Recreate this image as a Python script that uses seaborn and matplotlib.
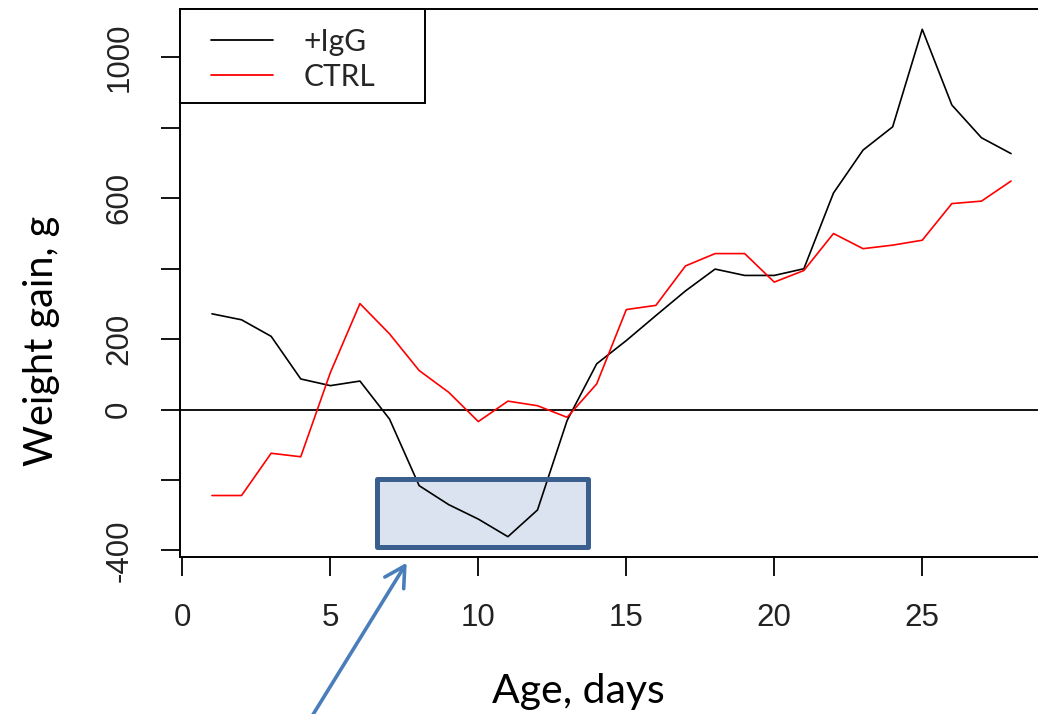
import matplotlib
matplotlib.use("Agg")
import matplotlib.pyplot as plt
from matplotlib import font_manager
from matplotlib.lines import Line2D
from matplotlib.patches import Rectangle
import pandas as pd
import seaborn as sns

# Daily weight gain (g) by age for the two groups
days = list(range(1, 29))
igg_gain = [272, 255, 208, 87, 68, 81, -27, -216, -270, -311, -361, -285, -31, 130,
            196, 267, 337, 399, 381, 381, 400, 615, 737, 803, 1080, 865, 772, 727]
ctrl_gain = [-244, -244, -124, -134, 105, 301, 215, 111, 49, -34, 24, 11, -22, 73,
             284, 296, 408, 443, 443, 362, 395, 500, 457, 467, 481, 585, 592, 649]

series_names = ["+IgG", "CTRL"]
series_colors = ["black", "red"]

x_ticks = [0, 5, 10, 15, 20, 25]
y_ticks = [-400, -200, 0, 200, 400, 600, 800, 1000]
y_tick_labels = ["-400", "", "0", "200", "", "600", "", "1000"]

# Highlighted window (days, grams)
highlight_days = (6.56, 13.70)
highlight_gain = (-390, -197)

df = pd.DataFrame({
    "Age": days + days,
    "Gain": igg_gain + ctrl_gain,
    "Group": [series_names[0]] * len(days) + [series_names[1]] * len(days),
})

sns.set_theme(style="white")
installed = {f.name for f in font_manager.fontManager.ttflist}
tick_family = "Liberation Sans Narrow" if "Liberation Sans Narrow" in installed else "Liberation Sans"
plt.rcParams["font.family"] = [tick_family, "DejaVu Sans"]

fig = plt.figure(figsize=(10.38, 7.14), dpi=100)
ax = fig.add_axes([0.17341, 0.21989, 0.83141, 0.76751])

# highlight box fill sits beneath the curves
hx0, hx1 = highlight_days
hy0, hy1 = highlight_gain
ax.add_patch(Rectangle((hx0, hy0), hx1 - hx0, hy1 - hy0, facecolor="#dae3ef",
                       edgecolor="none", zorder=1))

ax.axhline(0, color="black", lw=1.3, zorder=1.5)

sns.lineplot(data=df, x="Age", y="Gain", hue="Group",
             palette=dict(zip(series_names, series_colors)),
             linewidth=1.2, legend=False, ax=ax, zorder=2)

ax.add_patch(Rectangle((hx0, hy0), hx1 - hx0, hy1 - hy0, facecolor="none",
                       edgecolor="#3a5f8e", lw=3.6, joinstyle="round", zorder=3))


def r_limits(lo, hi):
    pad = 0.04 * (hi - lo)
    return lo - pad, hi + pad


ax.set_xlim(*r_limits(min(days), max(days)))
all_gain = igg_gain + ctrl_gain
ax.set_ylim(*r_limits(min(all_gain), max(all_gain)))

ax.set_xticks(x_ticks)
ax.set_xticklabels([str(t) for t in x_ticks])
ax.set_yticks(y_ticks)
ax.set_yticklabels(y_tick_labels, rotation=90, va="center")
ax.tick_params(direction="out", length=14, width=1.3, color="black",
               labelsize=22.5, labelcolor="#222222", pad=19,
               bottom=True, left=True)

for sp in ax.spines.values():
    sp.set_visible(True)
    sp.set_color("black")
    sp.set_linewidth(1.4)

ax.set_xlabel("Age, days", fontfamily="Lato", fontsize=29.5, color="black", va="baseline")
ax.xaxis.set_label_coords(0.4612, -0.2664)
ax.set_ylabel("Weight gain, g", fontfamily="Lato", fontsize=28.5, color="black",
              va="baseline", ha="center")
ax.yaxis.set_label_coords(-0.1472, 0.394)

# legend with a square R-style frame
handles = [Line2D([], [], color=c, lw=1.3) for c in series_colors]
ax.legend(handles, series_names, loc="upper left", bbox_to_anchor=(0.0356, 0.966),
          frameon=False, borderpad=0, borderaxespad=0, handlelength=2.1,
          handletextpad=1.0, labelspacing=0.24,
          prop={"family": "Lato", "size": 21.5})
ax.add_patch(Rectangle((0, 0.829), 0.2839, 0.171, transform=ax.transAxes,
                       facecolor="white", edgecolor="black", lw=1.4,
                       zorder=4, clip_on=False))

# pointer arrow toward the highlighted window
ax.annotate("", xy=(406.7, 151.3), xycoords="figure pixels",
            xytext=(297.3, -26), textcoords="figure pixels",
            arrowprops=dict(arrowstyle="->,head_length=0.72,head_width=0.4",
                            color="#4a7ebb", lw=2.6, shrinkA=0, shrinkB=0,
                            mutation_scale=20),
            annotation_clip=False)

fig.savefig("out.png", dpi=100)
